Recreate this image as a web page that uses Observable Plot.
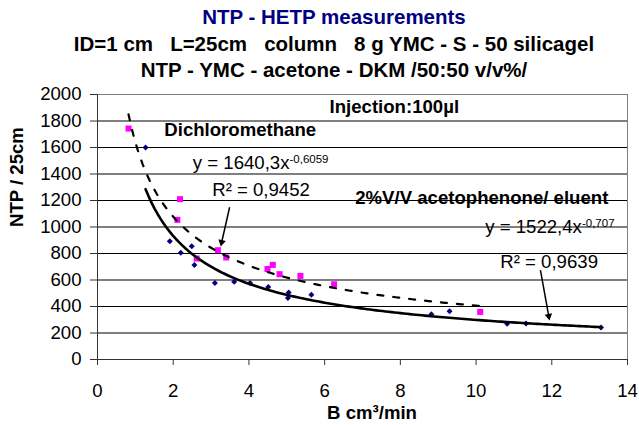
<!DOCTYPE html>
<html><head><meta charset="utf-8">
<script src="https://cdn.jsdelivr.net/npm/d3@7"></script>
<script src="https://cdn.jsdelivr.net/npm/@observablehq/plot@0.6"></script>
<style>
body{margin:0;background:#fff;}
#wrap{position:relative;width:639px;height:425px;font-family:"Liberation Sans",Arial,sans-serif;}
.t{position:absolute;left:0;width:668px;text-align:center;font-weight:bold;font-size:20.5px;white-space:pre;line-height:1;color:#000;}
#chart{position:absolute;left:0;top:0;}
</style></head><body>
<div id="wrap">
<div id="chart"></div>
<div class="t" style="top:6.6px;color:#000080">NTP - HETP measurements</div>
<div class="t" style="top:33.6px">ID=1 cm   L=25cm   column   8 g YMC - S - 50 silicagel</div>
<div class="t" style="top:59.6px">NTP - YMC - acetone - DKM /50:50 v/v%/</div>
</div>
<script>
// Series: 2%V/V acetophenone/ eluent (navy diamonds)
const acetoX = [1.27, 1.91, 2.20, 2.49, 2.56, 3.10, 3.61, 4.03, 4.51, 5.03, 5.05, 5.65, 8.82, 9.30, 10.82, 11.32, 13.30];
const acetoY = [1600, 893, 806, 855, 714, 578, 586, 578, 548, 465, 506, 488, 342, 365, 269, 272, 242];
// Series: Dichloromethane (magenta squares)
const dcmX = [0.82, 2.11, 2.18, 2.62, 3.18, 3.40, 4.49, 4.63, 4.81, 5.36, 6.25, 10.11];
const dcmY = [1743, 1054, 1210, 762, 825, 770, 683, 714, 644, 631, 568, 359];
// Power trendline coefficients (y = a * x^b) as printed on the chart
const acetoFit = [1522.4, -0.707];
const dcmFit = [1640.3, -0.6059];
// Ticks
const xTicks = [0, 2, 4, 6, 8, 10, 12, 14];
const yTicks = [0, 200, 400, 600, 800, 1000, 1200, 1400, 1600, 1800, 2000];
// Labels
const xLabel = "B cm³/min";
const yLabel = "NTP / 25cm";
const boldNotes = ["Injection:100µl", "Dichloromethane", "2%V/V acetophenone/ eluent"];
const boldNoteX = [7.84, 3.77, 10.15];
const boldNoteY = [1904, 1731, 1217];
const eqNotes = ["y = 1640,3x^-0,6059", "R² = 0,9452", "y = 1522,4x^-0,707", "R² = 0,9639"];
const eqNoteX = [4.31, 4.32, 11.95, 11.93];
const eqNoteY = [1482, 1278, 997, 734];
// Arrows: start, head (centroid of triangle), rotation of head
const arrowX1 = [3.49, 11.70];
const arrowY1 = [1149, 674];
const arrowX2 = [3.28, 11.92];
const arrowY2 = [885, 327];
const arrowRot = [193, 170];

const FONT = "Liberation Sans, Arial, sans-serif";

const aceto = acetoX.map((x, i) => ({x, y: acetoY[i]}));
const dcm = dcmX.map((x, i) => ({x, y: dcmY[i]}));
function powerCurve([a, b], xs) {
  const x0 = d3.min(xs), x1 = d3.max(xs), n = 150;
  return d3.range(n + 1).map(i => { const x = x0 + (x1 - x0) * i / n; return {x, y: a * Math.pow(x, b)}; });
}
const acetoCurve = powerCurve(acetoFit, acetoX);
const dcmCurve = powerCurve(dcmFit, dcmX);
const bold = boldNotes.map((t, i) => ({t, x: boldNoteX[i], y: boldNoteY[i]}));
const eqs = eqNotes.map((t, i) => ({t, x: eqNoteX[i], y: eqNoteY[i]}));
const arrows = arrowX1.map((x1, i) => ({x1, y1: arrowY1[i], x2: arrowX2[i], y2: arrowY2[i], rot: arrowRot[i], dashed: i === 0}));

const plot = Plot.plot({
  width: 639, height: 425,
  marginLeft: 97, marginRight: 12, marginTop: 94, marginBottom: 66,
  style: {fontFamily: FONT, fontSize: "18.6px", background: "transparent", color: "#000", overflow: "visible"},
  x: {domain: [0, 14]},
  y: {domain: [0, 2000]},
  marks: [
    Plot.axisX({ticks: xTicks, tickSize: 6, tickPadding: 18, tickFormat: d => String(d), label: null, fontSize: 18.6, stroke: "#333"}),
    Plot.axisY({ticks: yTicks, tickSize: 7, tickPadding: 9, tickFormat: d => String(d), label: null, fontSize: 18.6, stroke: "#333"}),
    Plot.ruleY(yTicks.filter(d => d > 0 && d < 2000), {stroke: "#000", strokeWidth: 1}),
    Plot.ruleY([2000], {stroke: "#808080", strokeWidth: 1}),
    Plot.ruleX([14], {stroke: "#808080", strokeWidth: 1}),
    Plot.ruleX([0], {stroke: "#333", strokeWidth: 1}),
    Plot.ruleY([0], {stroke: "#333", strokeWidth: 1}),
    Plot.dot(dcm, {x: "x", y: "y", symbol: "square", fill: "#FF00FF", r: 3.4}),
    Plot.dot(aceto, {x: "x", y: "y", symbol: "diamond2", fill: "#000080", r: 2.7}),
    Plot.line(acetoCurve, {x: "x", y: "y", stroke: "#000", strokeWidth: 2.6}),
    Plot.line(dcmCurve, {x: "x", y: "y", stroke: "#000", strokeWidth: 2.2, strokeDasharray: "6,10"}),
    Plot.link(arrows, {x1: "x1", y1: "y1", x2: "x2", y2: "y2", stroke: "#000", strokeWidth: 1.5,
      strokeDasharray: d => d.dashed ? "4,3" : null}),
    Plot.dot(arrows, {x: "x2", y: "y2", symbol: "triangle", r: 2.8, fill: "#000", rotate: "rot"}),
    Plot.text(bold, {x: "x", y: "y", text: "t", fontWeight: "bold", fontSize: 18.6, fill: "#000"}),
    Plot.text(eqs, {x: "x", y: "y", text: "t", fontSize: 18.6, fill: "#000"}),
    Plot.text([yLabel], {frameAnchor: "left", dx: -80.5, rotate: -90, fontWeight: "bold", fontSize: 18.6, fill: "#000"}),
    Plot.text([xLabel], {frameAnchor: "bottom", dx: 9.5, dy: 54, lineAnchor: "middle", fontWeight: "bold", fontSize: 18.6, fill: "#000"})
  ]
});

// superscript exponents in the trendline equations
d3.select(plot).selectAll("text").each(function () {
  const t = this.textContent;
  if (t.includes("^")) {
    const [base, sup] = t.split("^");
    const sel = d3.select(this);
    sel.text("");
    sel.append("tspan").text(base);
    sel.append("tspan").attr("dy", "-0.55em").attr("font-size", "0.62em").text(sup);
  }
});
document.getElementById("chart").appendChild(plot);
</script>
</body></html>
